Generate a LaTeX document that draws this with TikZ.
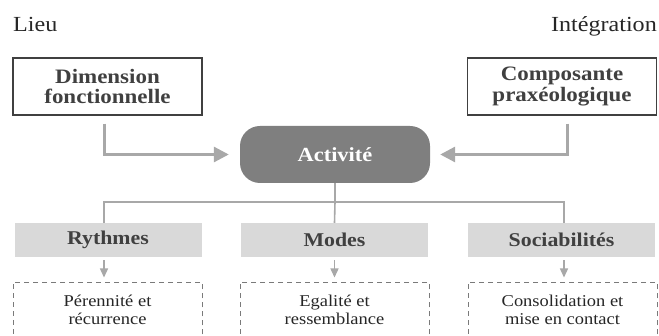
\documentclass[tikz,border=0pt]{standalone}
\usepackage{fontspec}
\setmainfont[FakeStretch=1.12]{Liberation Serif}
\usetikzlibrary{arrows.meta}
\definecolor{arrgray}{HTML}{A8A8A8}
\definecolor{boxtext}{HTML}{404040}
\definecolor{actfill}{HTML}{7F7F7F}
\definecolor{catfill}{HTML}{D9D9D9}
\definecolor{dashcol}{HTML}{7A7A7A}
\tikzset{
  title/.style={inner sep=0pt, text=black!85, font=\fontsize{21.5}{23}\selectfont},
  framebox/.style={draw=black!75, line width=1.2pt, minimum width=189pt, minimum height=57pt, align=center,
    text=boxtext, font=\bfseries\fontsize{20.5}{20.5}\selectfont, inner sep=0pt},
  actbox/.style={fill=actfill, rounded corners=20pt, minimum width=190pt, minimum height=57pt,
    text=white, font=\bfseries\fontsize{20}{22}\selectfont, inner sep=0pt},
  catbox/.style={fill=catfill, minimum width=187pt, minimum height=34pt, text=boxtext,
    font=\bfseries\fontsize{19.5}{21}\selectfont, inner sep=0pt},
  dashbox/.style={draw=dashcol, line width=0.9pt, dash pattern=on 5pt off 4pt, minimum width=189pt,
    minimum height=70pt, inner sep=0pt},
  subtext/.style={align=center, text=black!85, font=\fontsize{16.5}{18.5}\selectfont, inner sep=0pt},
  bigarrow/.style={draw=arrgray, line width=3pt, -{Triangle[length=15pt,width=15pt]}},
  treeline/.style={draw=arrgray, line width=1.6pt},
  smallarrow/.style={draw=arrgray, line width=1.4pt, -{Triangle[length=9pt,width=8pt]}}
}
\begin{document}
\begin{tikzpicture}[x=1pt,y=-1pt]
\clip (0,0) rectangle (659,336);
\useasboundingbox (0,0) rectangle (659,336);

\node[title, anchor=base west] (lieu) at (13,32) {Lieu};
\node[title, anchor=base east] (integ) at (657,32) {Intégration};

\node[framebox] (dim) at (107.5,86.5) {Dimension\\fonctionnelle};
\node[framebox] (comp) at (562,86.5) {Composante\\praxéologique};

\node[actbox] (act) at (335,154.5) {Activité};

\draw[bigarrow, shorten >=11pt] ([xshift=-3.5pt,yshift=-8pt]dim.south) |- (act.west);
\draw[bigarrow, shorten >=10pt] ([xshift=5pt,yshift=-8pt]comp.south) |- (act.east);

\node[catbox] (ry) at (108,240) {Rythmes};
\node[catbox] (mo) at (334.5,240) {Modes};
\node[catbox] (so) at (561.5,240) {Sociabilités};

\coordinate (hub) at (335,202);
\draw[treeline] (act.south) -- (hub);
\draw[treeline] ([xshift=-4pt]ry.north) |- (hub) -| ([xshift=2.5pt]so.north);
\draw[treeline] (hub) -- (mo.north);

\node[dashbox, anchor=north] (d1) at (107.5,282) {};
\node[dashbox, anchor=north] (d2) at (334.5,282) {};
\node[dashbox, anchor=north] (d3) at (562.5,282) {};

\draw[smallarrow] ([xshift=-4pt,yshift=-3pt]ry.south) -- ([xshift=-4pt,yshift=4.5pt]ry.south |- d1.north);
\draw[smallarrow] ([yshift=-3pt]mo.south) -- ([yshift=4.5pt]mo.south |- d2.north);
\draw[smallarrow] ([xshift=2.5pt,yshift=-3pt]so.south) -- ([xshift=2.5pt,yshift=4.5pt]so.south |- d3.north);

\node[subtext] (t1) at (107.5,310) {Pérennité et\\récurrence};
\node[subtext] (t2) at (334.5,310) {Egalité et\\ressemblance};
\node[subtext] (t3) at (562.5,310) {Consolidation et\\mise en contact};
\end{tikzpicture}
\end{document}
